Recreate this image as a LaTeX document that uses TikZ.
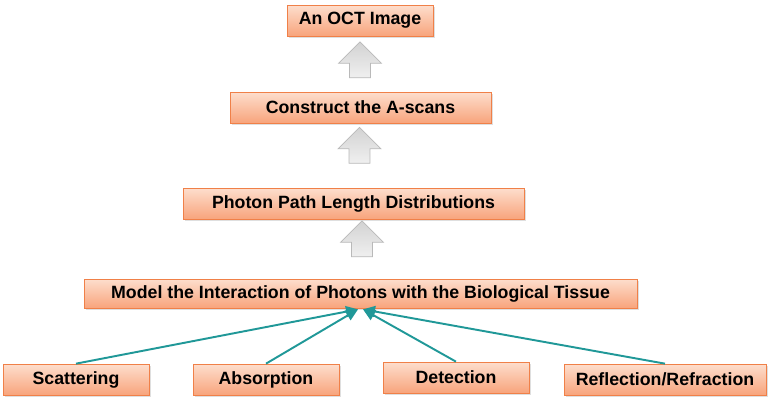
\documentclass[tikz,border=0pt]{standalone}
\usepackage{fontspec}
\setmainfont{Liberation Sans}
\usetikzlibrary{positioning,arrows.meta,shapes.arrows,shadows,calc}

\definecolor{boxline}{RGB}{240,128,72}
\definecolor{boxtop}{RGB}{253,222,205}
\definecolor{boxbot}{RGB}{248,164,124}
\definecolor{tealline}{RGB}{32,152,152}

\begin{document}
\begin{tikzpicture}[
    stage/.style={rectangle, draw=boxline, top color=boxtop, bottom color=boxbot, minimum height=0.62cm, inner sep=0pt, align=center, font=\fontsize{10.1}{12}\selectfont\bfseries, drop shadow={opacity=0.25, shadow xshift=0.04cm, shadow yshift=-0.04cm}},
    uparrow/.style={single arrow, shape border rotate=90, draw=gray!55, top color=gray!35, bottom color=gray!12, inner sep=0.2cm, minimum height=0.72cm, minimum width=0.86cm, single arrow head extend=0.22cm, single arrow tip angle=90},
    a/.style={-{Triangle[length=2.4mm,width=2.2mm]}, line width=1.1pt, tealline}
]
    \useasboundingbox (0,0) rectangle (15.38,-8.16);
    \node[stage, minimum width=2.92cm]  (oct)   at (7.20,-0.41) {An OCT Image};
    \node[stage, minimum width=5.22cm]  (scans) at (7.21,-2.15) {Construct the A-scans};
    \node[stage, minimum width=6.82cm]  (ppl)   at (7.07,-4.07) {Photon Path Length Distributions};
    \node[stage, minimum width=11.06cm, minimum height=0.58cm] (model) at (7.21,-5.87) {Model the Interaction of Photons with the Biological Tissue};
    \node[stage, minimum width=2.92cm]  (scat)  at (1.52,-7.59) {Scattering};
    \node[stage, minimum width=2.92cm]  (absn)  at (5.32,-7.59) {Absorption};
    \node[stage, minimum width=2.92cm]  (det)   at (9.12,-7.55) {Detection};
    \node[stage, minimum width=4.04cm]  (refl)  at (13.30,-7.59) {Reflection/Refraction};
    \node[uparrow] (up1) at (7.20,-1.30) {};
    \node[uparrow] (up2) at (7.19,-3.01) {};
    \node[uparrow] (up3) at (7.24,-4.88) {};
    \coordinate (hitL) at ($(model.south)+(-0.05,-0.02)$);
    \coordinate (hitR) at ($(model.south)+(0.05,-0.02)$);
    \draw[a] (scat.north) -- (hitL);
    \draw[a] (absn.north) -- (hitL);
    \draw[a] (det.north) -- (hitR);
    \draw[a] (refl.north) -- (hitR);
\end{tikzpicture}
\end{document}
